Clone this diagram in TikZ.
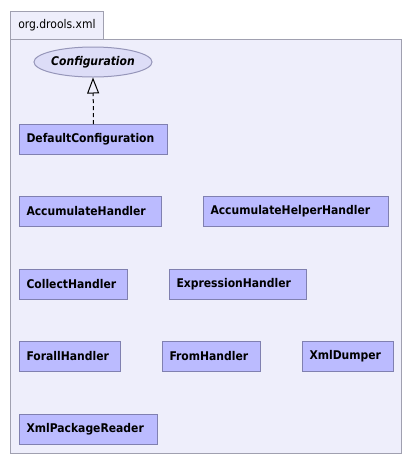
\documentclass[tikz,border=0pt]{standalone}
\usepackage{fontspec}
\setmainfont{DejaVu Sans Condensed}
\usetikzlibrary{arrows.meta,shapes.geometric}
\definecolor{pkgfill}{RGB}{238,238,251}
\definecolor{pkgline}{RGB}{160,160,176}
\definecolor{clsfill}{RGB}{187,187,255}
\definecolor{clsline}{RGB}{128,128,176}
\definecolor{ifcfill}{RGB}{221,221,247}
\definecolor{ifcline}{RGB}{150,150,185}
\tikzset{
  pkg/.style={draw=pkgline, fill=pkgfill, line width=0.75pt},
  cls/.style={draw=clsline, fill=clsfill, line width=0.75pt, anchor=north west,
    inner xsep=5.25pt, inner ysep=0pt, minimum height=22.5pt, align=left,
    font=\bfseries\fontsize{9}{10}\selectfont},
  ifc/.style={draw=ifcline, fill=ifcfill, line width=0.75pt, ellipse,
    minimum width=84pt, minimum height=22.5pt, inner sep=0pt,
    font=\bfseries\itshape\fontsize{9}{10}\selectfont},
  realize/.style={dash pattern=on 3pt off 2.25pt, line width=0.75pt,
    -{Triangle[open, length=12pt, width=9pt, line width=0.75pt]}},
}
\begin{document}
\begin{tikzpicture}[x=0.75pt,y=-0.75pt]
\useasboundingbox (0,0) rectangle (412,465);
\fill[white] (0,0) rectangle (412,465);
% package tab and body
\draw[pkg] (10.5,11.5) rectangle (103,39);
\draw[pkg] (10.5,39) rectangle (401.5,453);
\node[anchor=west, inner sep=0pt, font=\fontsize{9}{10}\selectfont] (pkgname) at (18,25.5) {org.drools.xml};
% interface
\node[ifc] (cfg) at (93,62) {Configuration};
% classes
\node[cls, text width=100.5pt] (dc) at (19,124) {DefaultConfiguration};
\node[cls, text width=96pt] (ah) at (19,196) {AccumulateHandler};
\node[cls, text width=128.25pt] (ahh) at (203,196) {AccumulateHelperHandler};
\node[cls, text width=70.5pt] (coll) at (19,269) {CollectHandler};
\node[cls, text width=92.25pt] (expr) at (169,269) {ExpressionHandler};
\node[cls, text width=65.25pt] (forall) at (19,341) {ForallHandler};
\node[cls, text width=63pt] (from) at (162,341) {FromHandler};
\node[cls, text width=57.75pt] (xd) at (302,341) {XmlDumper};
\node[cls, text width=93pt] (xpr) at (19,414) {XmlPackageReader};
% realization
\draw[realize] (dc.north) -- (cfg.south);
\end{tikzpicture}
\end{document}
